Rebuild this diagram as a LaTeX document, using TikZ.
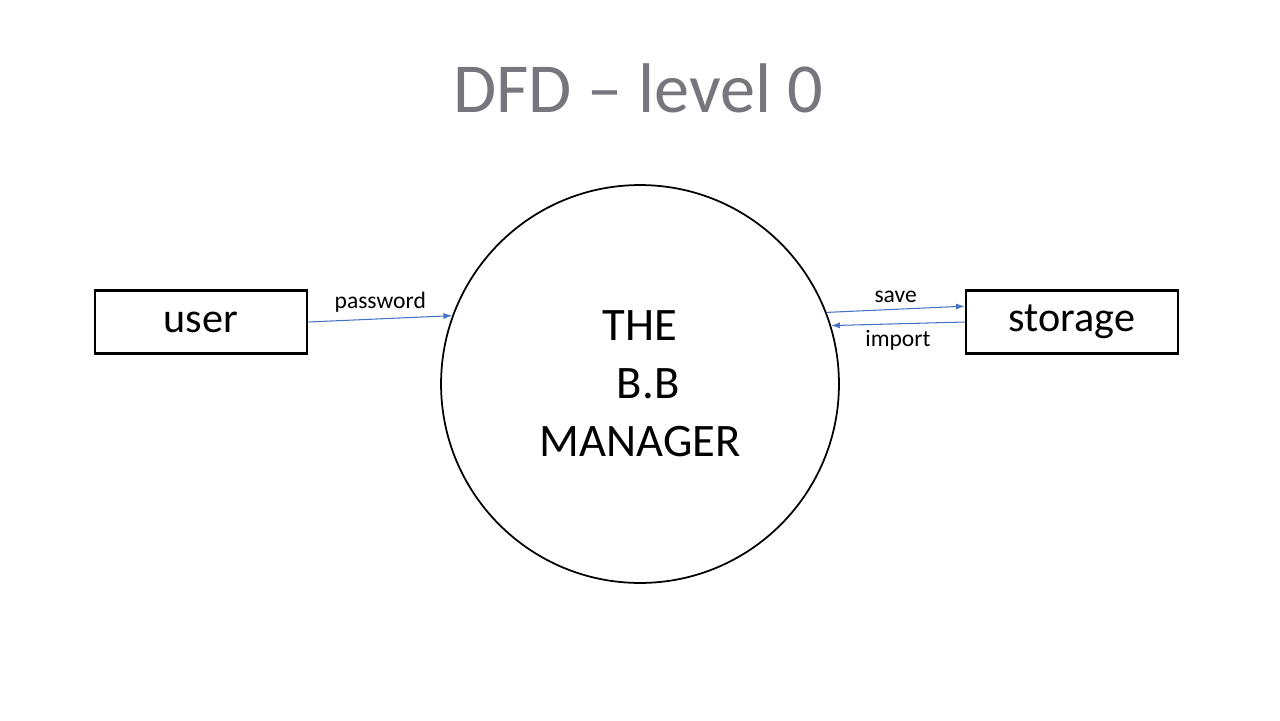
\documentclass[tikz,border=0pt]{standalone}
\usepackage{fontspec}
\setmainfont{Carlito}
\usetikzlibrary{arrows.meta}
\definecolor{titlegray}{RGB}{118,118,124}
\definecolor{flowblue}{RGB}{68,114,196}
\begin{document}
\begin{tikzpicture}[x=0.02cm,y=-0.02cm,
  entity node/.style={rectangle,draw,line width=1.5pt,minimum width=4.24cm,minimum height=1.26cm,font=\fontsize{24}{28}\selectfont},
  process node/.style={circle,draw,line width=1pt,minimum size=7.96cm,inner sep=0pt,align=center,font=\fontsize{26.5}{33}\selectfont},
  flow/.style={draw=flowblue,line width=0.6pt,-{Latex[length=5pt,width=3.5pt]}}]

  \useasboundingbox (0,0) rectangle (1280,720);

  \node[font=\fontsize{40}{48}\selectfont,text=titlegray] (title) at (638,88) {DFD -- level 0};

  \node[entity node] (user) at (201,322) {user};
  \node[entity node] (storage) at (1072,322) {storage};
  \node[process node] (mgr) at (640,384) {THE\\ \hspace{0.35em}B.B\\MANAGER};

  \path[every node/.style={font=\fontsize{13.4}{16}\selectfont,text=black}]
    (user.east) edge[flow] node[above]{password} (mgr.160)
    (mgr.21.3) edge[flow] node[above]{save} ([yshift=9pt]storage.west)
    (storage.west) edge[flow] node[below]{import} (mgr.17);
\end{tikzpicture}
\end{document}
